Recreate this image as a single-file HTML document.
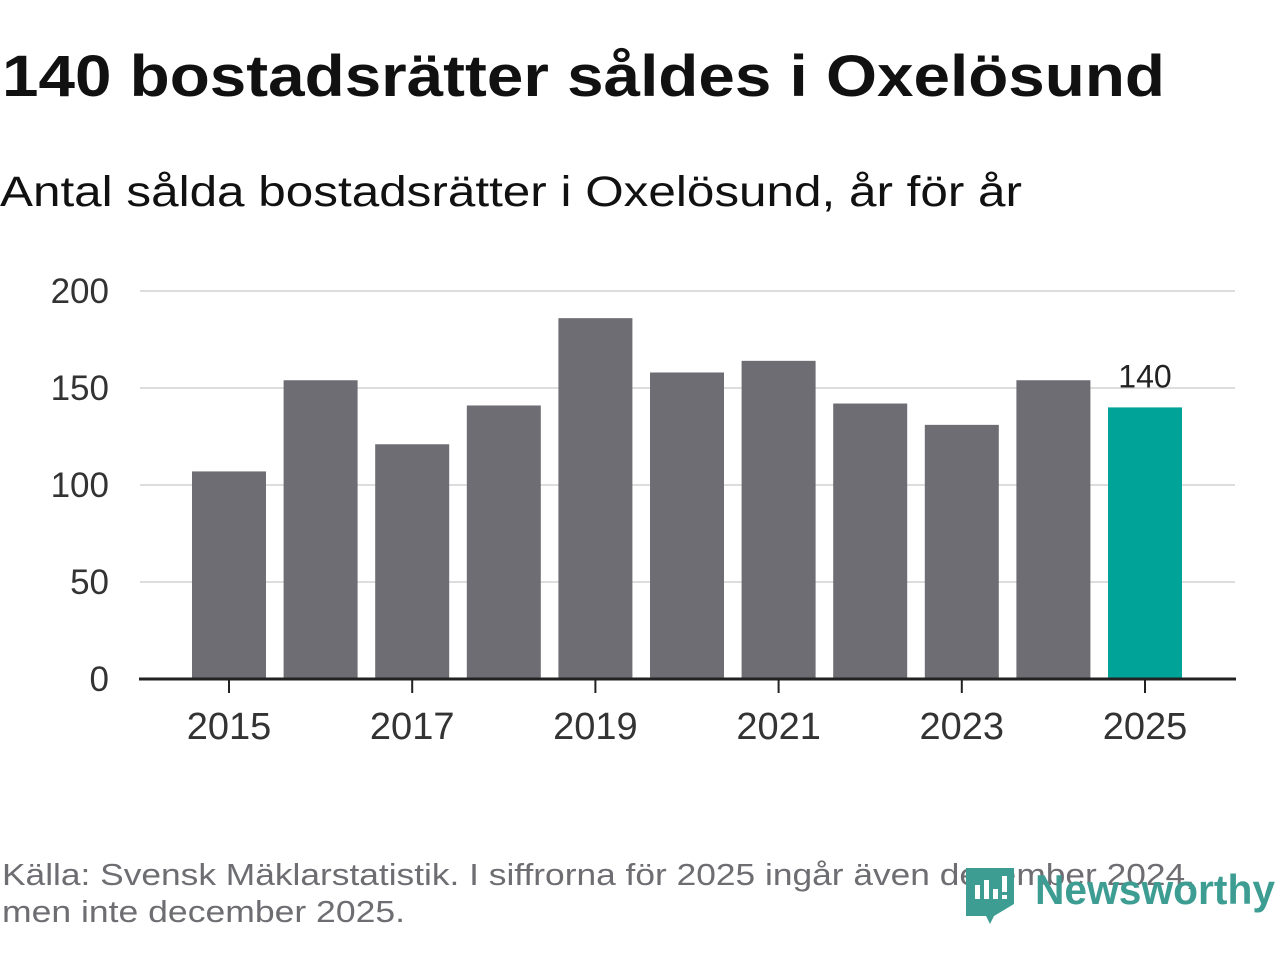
<!DOCTYPE html>
<html><head><meta charset="utf-8"><style>
body{margin:0;width:1280px;height:960px;background:#fff;overflow:hidden;font-family:"Liberation Sans",sans-serif;}
</style></head><body>
<svg width="1280" height="960" xmlns="http://www.w3.org/2000/svg">
<text x="2" y="96" font-size="58" font-weight="bold" fill="#111" textLength="1163" lengthAdjust="spacingAndGlyphs">140 bostadsrätter såldes i Oxelösund</text>
<text x="0" y="206" font-size="43" fill="#111" textLength="1022" lengthAdjust="spacingAndGlyphs">Antal sålda bostadsrätter i Oxelösund, år för år</text>
<g id="grid"></g><g id="bars"></g><g id="axis"></g>
<text x="2" y="885" font-size="31" fill="#6e6d72" textLength="1193" lengthAdjust="spacingAndGlyphs">Källa: Svensk Mäklarstatistik. I siffrorna för 2025 ingår även december 2024,</text>
<text x="2" y="922" font-size="31" fill="#6e6d72" textLength="403" lengthAdjust="spacingAndGlyphs">men inte december 2025.</text>
<g>
<path d="M966 868 h48 v36 l-20 12 l-4 8 l-4 -8 h-20 z" fill="#3e9d93"/>
<rect x="975" y="885" width="5" height="14" fill="#fff"/><rect x="984" y="880" width="5" height="19" fill="#fff"/><rect x="993" y="889" width="5" height="10" fill="#fff"/><rect x="1002" y="876" width="5" height="16" fill="#fff"/><rect x="1002" y="895" width="5" height="4" fill="#fff"/>
<text x="1035" y="904" font-size="42" font-weight="bold" fill="#3e9d93" textLength="240" lengthAdjust="spacingAndGlyphs">Newsworthy</text>
</g>
</svg>
<script>
const years=[2015,2016,2017,2018,2019,2020,2021,2022,2023,2024,2025];
const values=[107,154,121,141,186,158,164,142,131,154,140];
const yTicks=[0,50,100,150,200];
const ns="http://www.w3.org/2000/svg";
const y=v=>679-v*1.94;
const x=i=>229+i*91.6;
function mk(t,a,p){const e=document.createElementNS(ns,t);for(const k in a)e.setAttribute(k,a[k]);p.appendChild(e);return e;}
const g=document.getElementById('grid'),b=document.getElementById('bars'),ax=document.getElementById('axis');
yTicks.forEach(v=>{
 if(v>0){const l=mk('line',{x1:140,x2:1235,y1:y(v),y2:y(v),stroke:'#ddd','stroke-width':2},g);
 
 }
 const t=mk('text',{x:109,y:y(v)+12,'font-size':35,fill:'#333','text-anchor':'end'},g);t.textContent=v;
 
 
});
years.forEach((yr,i)=>{
 const last=i===years.length-1;
 const r=mk('rect',{x:x(i)-37,y:y(values[i]),width:74,height:679-y(values[i]),fill:last?'#00a398':'#6e6d73'},b);
 
 
 if(last){const t=mk('text',{x:x(i),y:y(values[i])-20,'font-size':32,fill:'#222','text-anchor':'middle'},b);t.textContent=values[i];
 
 }
 if(yr%2===1){mk('line',{x1:x(i),x2:x(i),y1:679,y2:693,stroke:'#222','stroke-width':2},ax);
 const t=mk('text',{x:x(i),y:739,'font-size':38,fill:'#333','text-anchor':'middle'},ax);t.textContent=yr;
 
 }
});
const a=mk('line',{x1:139,x2:1236,y1:679,y2:679,stroke:'#222','stroke-width':3},ax);


</script>
</body></html>
